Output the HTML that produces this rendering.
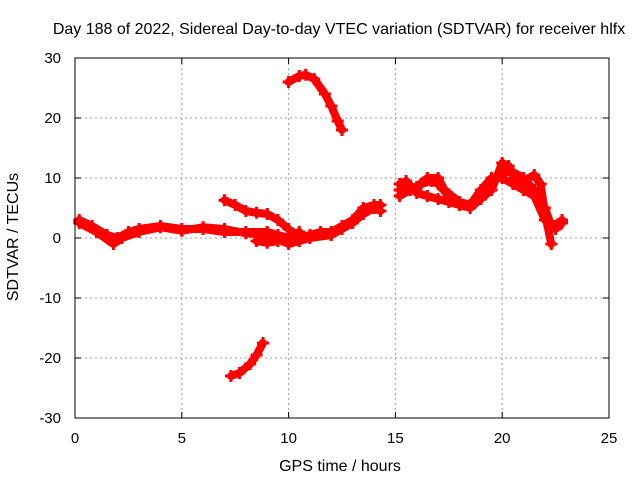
<!DOCTYPE html>
<html><head><meta charset="utf-8"><style>
body{margin:0;background:#fff;}
svg{display:block;font-family:"Liberation Sans",sans-serif;}
</style></head><body>
<svg id="c" width="640" height="480">
<rect x="0" y="0" width="640" height="480" fill="#fff"/>
<text x="339" y="34" font-size="16" text-anchor="middle">Day 188 of 2022, Sidereal Day-to-day VTEC variation (SDTVAR) for receiver hlfx</text>
<text x="340" y="471" font-size="16" text-anchor="middle">GPS time / hours</text>
<text x="18" y="237" font-size="16" text-anchor="middle" transform="rotate(-90 18 237)">SDTVAR / TECUs</text>
<g id="grid"></g>
<g id="series"></g>
<rect x="75" y="58" width="534" height="360" fill="none" stroke="#000" stroke-width="1"/>
<g id="ticks"></g>
</svg>
<script>
const xTicks=[0,5,10,15,20,25];
const yTicks=[-30,-20,-10,0,10,20,30];
const track1x=[0.2,0.8,1.5,2,2.5,3,4,5,6,7,8,9,9.5,10,10.5,11,11.5,12,12.5,13,13.5,14,14.3];
const track1y=[3,2,0.5,0,1,1.5,2,1.5,1.5,1,1,1,0.5,0,0,0.5,1,1,2,3,5,5.5,5.5];
const track1bx=[0.2,1,1.8,2.2,3,4,5,6,7,8,9,10,10.5,11,12,12.5,13,13.5,14,14.3];
const track1by=[2.5,1,-1,0,1,1.8,1.2,1.8,1.5,0.8,0.5,-1,-0.5,0,0.5,1.5,2.5,4,5,4.5];
const track2x=[7.0,7.5,8,8.5,9,9.5,10,10.3];
const track2y=[6.3,5.5,4.5,4.2,4,3,1.5,0.5];
const track2bx=[8.5,9,9.5,10,10.5];
const track2by=[-0.5,-0.8,-0.5,0.3,1];
const track3x=[10,10.5,10.8,11.2,11.7,12,12.3,12.5];
const track3y=[26,27,27.2,26.5,24,22,19.5,18];
const track4x=[7.3,7.7,8.2,8.5,8.8];
const track4y=[-23,-22.5,-21,-19.5,-17.5];
const track5x=[15.2,15.7,16.2,16.7,17,17.5,18,18.5,19,19.5,20,20.5,21,21.5,22,22.3,22.5,22.8];
const track5y=[7,8,9,9.5,9,7,6,5.5,6.5,9,11,11,10,8,5,2,1.5,2.5];
const track5bx=[15.2,15.5,16,16.5,17,17.5,18,18.5,19,19.5,20,20.3,20.6,21,21.5,21.8,22,22.3];
const track5by=[9,9.5,7.5,7,6.5,6,5.5,5,6.5,8,12.5,12,10,9.5,10.5,9,4,-1];
const track5cx=[15.2,16,16.5,17,17.3,18,18.5,19,19.5,20,20.5,21,21.5,22,22.5,22.8];
const track5cy=[8,8.5,10,10,8,6,5.5,8,10,10,9,8,7,3,2,3];
const X=v=>75+(v-0)*(534/25);
const Y=v=>238-v*6;
const NS='http://www.w3.org/2000/svg';
const grid=document.getElementById('grid'),ticks=document.getElementById('ticks'),ser=document.getElementById('series');
function mk(tag,a,p){const e=document.createElementNS(NS,tag);for(const k in a)e.setAttribute(k,a[k]);p.appendChild(e);return e;}
xTicks.forEach(t=>{
 if(t>0&&t<25){const g=mk('line',{x1:X(t),x2:X(t),y1:58,y2:418,stroke:'#a0a0a0','stroke-dasharray':'2,3'},grid);
 
 }
 const l=mk('line',{x1:X(t),x2:X(t),y1:418,y2:412,stroke:'#000'},ticks);
 
 
 const l2=mk('line',{x1:X(t),x2:X(t),y1:58,y2:64,stroke:'#000'},ticks);
 
 
 const tx=mk('text',{x:X(t),y:443,'font-size':15,'text-anchor':'middle'},ticks);tx.textContent=t;
 
 
});
yTicks.forEach(t=>{
 if(t>-30&&t<30){const g=mk('line',{x1:75,x2:609,y1:Y(t),y2:Y(t),stroke:'#a0a0a0','stroke-dasharray':'2,3'},grid);
 
 }
 const l=mk('line',{x1:75,x2:81,y1:Y(t),y2:Y(t),stroke:'#000'},ticks);
 
 
 const l2=mk('line',{x1:603,x2:609,y1:Y(t),y2:Y(t),stroke:'#000'},ticks);
 
 
 const tx=mk('text',{x:61,y:Y(t)+5,'font-size':15,'text-anchor':'end'},ticks);tx.textContent=t;
 
 
});
function track(xs,ys,name){
 const pts=xs.map((x,i)=>X(x)+','+Y(ys[i])).join(' ');
 const pl=mk('polyline',{points:pts,fill:'none',stroke:'#f00','stroke-width':8,'stroke-linejoin':'round','stroke-linecap':'round'},ser);
 
 
 xs.forEach((x,i)=>{const cx=X(x),cy=Y(ys[i]);
  const p=mk('path',{d:`M${cx-6},${cy}H${cx+6}M${cx},${cy-6}V${cy+6}`,stroke:'#f00','stroke-width':3},ser);
  
  });
}
track(track1x,track1y,'track-main');
track(track1bx,track1by,'track-main-b');
track(track2x,track2y,'track-upper-branch');
track(track2bx,track2by,'track-lower-branch');
track(track3x,track3y,'track-high-arc');
track(track4x,track4y,'track-low-segment');
track(track5x,track5y,'track-evening');
track(track5bx,track5by,'track-evening-b');
track(track5cx,track5cy,'track-evening-c');
</script>
</body></html>
